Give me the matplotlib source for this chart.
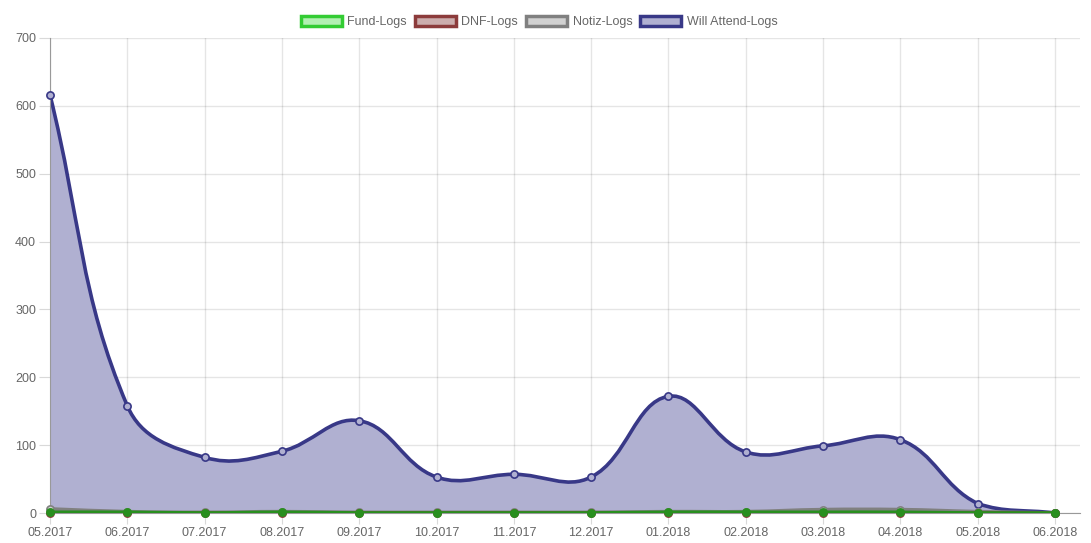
import numpy as np
import matplotlib
matplotlib.use("Agg")
import matplotlib.pyplot as plt
from matplotlib.path import Path
from matplotlib.patches import PathPatch, Patch

labels = ["05.2017", "06.2017", "07.2017", "08.2017", "09.2017", "10.2017", "11.2017",
          "12.2017", "01.2018", "02.2018", "03.2018", "04.2018", "05.2018", "06.2018"]
fund_logs = [1, 1, 0, 1, 0, 0, 0, 0, 1, 1, 1, 1, 0, 0]
dnf_logs = [0, 0, 0, 0, 0, 0, 0, 0, 0, 0, 0, 0, 0, 0]
notiz_logs = [6, 2, 1, 2, 1, 1, 1, 1, 2, 2, 5, 5, 2, 0]
will_attend_logs = [616, 158, 82, 91, 136, 53, 57, 53, 172, 90, 99, 108, 14, 0]

plt.rcParams['font.family'] = ['Liberation Sans', 'DejaVu Sans']

W, H = 1091, 543
fig = plt.figure(figsize=(W / 100, H / 100), dpi=100)
L, R, B, T = 50, 1080, 513, 38
ax = fig.add_axes([L / W, (H - B) / H, (R - L) / W, (B - T) / H])
n = len(labels)
xspan = (1055 - 50) / (n - 1)
xmax = (n - 1) + (R - 1055) / xspan
ax.set_xlim(0, xmax)
ax.set_ylim(0, 700)
px_x = (R - L) / xmax
px_y = (B - T) / 700.0


def bezier_path(vals, tension=0.4):
    xs = np.arange(len(vals), dtype=float)
    ys = np.array(vals, dtype=float)
    P = np.column_stack([xs * px_x, ys * px_y])
    cps = []
    for i in range(len(P)):
        prev = P[i - 1] if i > 0 else P[i]
        nxt = P[i + 1] if i < len(P) - 1 else P[i]
        cur = P[i]
        d01 = np.hypot(*(cur - prev))
        d12 = np.hypot(*(nxt - cur))
        tot = d01 + d12
        s01 = d01 / tot if tot else 0
        s12 = d12 / tot if tot else 0
        fa, fb = tension * s01, tension * s12
        cp_prev = cur - fa * (nxt - prev)
        cp_next = cur + fb * (nxt - prev)
        cps.append((cp_prev, cp_next))
    verts = [P[0]]
    codes = [Path.MOVETO]
    for i in range(1, len(P)):
        c1 = cps[i - 1][1]
        c2 = cps[i][0]
        verts += [c1, c2, P[i]]
        codes += [Path.CURVE4] * 3
    verts = np.array(verts)
    verts[:, 0] /= px_x
    verts[:, 1] /= px_y
    verts[:, 1] = np.clip(verts[:, 1], 0, 700)
    return verts, codes


series = [
    ("Will Attend-Logs", will_attend_logs, (0.22, 0.22, 0.53), (0.69, 0.69, 0.82), (0.69, 0.69, 0.82)),
    ("Notiz-Logs", notiz_logs, (0.50, 0.50, 0.50), (0.60, 0.60, 0.62), (0.82, 0.82, 0.82)),
    ("DNF-Logs", dnf_logs, (0.55, 0.23, 0.23), (0.78, 0.67, 0.67), (0.78, 0.67, 0.67)),
    ("Fund-Logs", fund_logs, (0.16, 0.56, 0.12), (0.16, 0.56, 0.12), (0.70, 0.94, 0.70)),
]
legend_border = {"Fund-Logs": (0.2, 0.8, 0.2), "DNF-Logs": (0.55, 0.23, 0.23),
                 "Notiz-Logs": (0.5, 0.5, 0.5), "Will Attend-Logs": (0.22, 0.22, 0.53)}
legend_fill = {"Fund-Logs": (0.70, 0.94, 0.70), "DNF-Logs": (0.80, 0.68, 0.68),
               "Notiz-Logs": (0.82, 0.82, 0.82), "Will Attend-Logs": (0.69, 0.69, 0.82)}

z = 2
for name, vals, lc, fc, mfc in series:
    verts, codes = bezier_path(vals)
    fill_verts = np.vstack([verts, [[verts[-1, 0], 0], [verts[0, 0], 0], verts[0]]])
    fill_codes = codes + [Path.LINETO, Path.LINETO, Path.CLOSEPOLY]
    ax.add_patch(PathPatch(Path(fill_verts, fill_codes), facecolor=fc, edgecolor='none', zorder=z))
    ax.add_patch(PathPatch(Path(verts, codes), facecolor='none', edgecolor=lc, lw=2.6, zorder=z + 0.5))
    ax.plot(range(n), vals, 'o', ms=5.2, mfc=mfc if name != "Fund-Logs" else lc,
            mec=lc, mew=1.2, zorder=z + 0.6, clip_on=False, linestyle='none')
    z += 1

ax.set_xticks(range(n))
ax.set_xticklabels(labels)
ax.set_yticks(range(0, 701, 100))
ax.grid(True, color=(0, 0, 0), alpha=0.1, lw=1, zorder=0)
ax.set_axisbelow(True)
for s in ['top', 'right']:
    ax.spines[s].set_visible(False)
ax.spines['left'].set_color((0.6, 0.6, 0.6))
ax.spines['bottom'].set_color((0.6, 0.6, 0.6))
ax.tick_params(axis='both', length=8, color=(0.85, 0.85, 0.85), labelsize=9, labelcolor=(0.40, 0.40, 0.40), pad=2)

handles = [Patch(facecolor=legend_fill[k], edgecolor=legend_border[k], lw=2.5, label=k)
           for k in ["Fund-Logs", "DNF-Logs", "Notiz-Logs", "Will Attend-Logs"]]
leg = fig.legend(handles=handles, loc='center', bbox_to_anchor=(539 / W, 1 - 22 / H), ncol=4,
                 frameon=False, handlelength=3.3, handleheight=0.95, handletextpad=0.45,
                 columnspacing=0.6, fontsize=9)
for t in leg.get_texts():
    t.set_color((0.40, 0.40, 0.40))

fig.savefig("out.png", dpi=100)
